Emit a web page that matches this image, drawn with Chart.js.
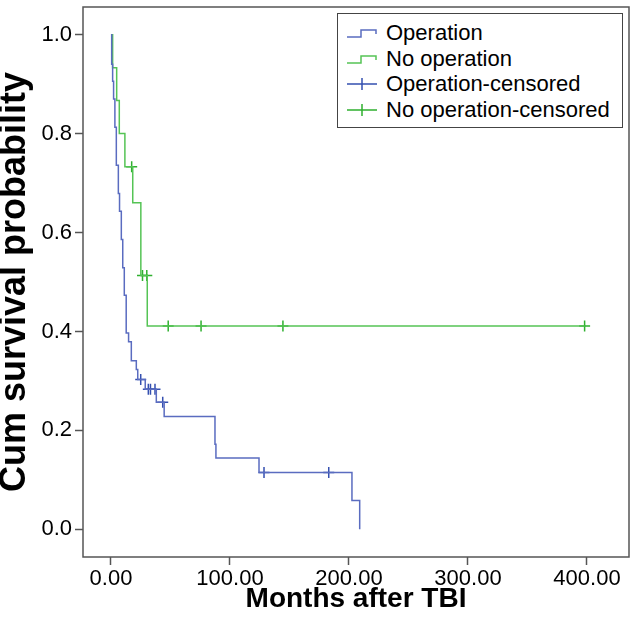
<!DOCTYPE html>
<html lang="en">
<head>
<meta charset="UTF-8">
<title>Survival after TBI</title>
<script src="https://cdn.jsdelivr.net/npm/chart.js"></script>
<style>
  body { margin: 0; background: #ffffff; font-family: "Liberation Sans", Arial, sans-serif; }
  #wrap { position: relative; width: 641px; height: 625px; }
  #legend {
    position: absolute; left: 337px; top: 13px; width: 286px; height: 115px;
    box-sizing: border-box; border: 1.5px solid #444; background: #fff; padding-top: 6px;
  }
  .row { height: 25.7px; display: flex; align-items: center; font-size: 22px; color: #000; white-space: nowrap; }
  .row svg { margin-left: 9px; margin-right: 9px; }
</style>
</head>
<body>
<div id="wrap">
  <canvas id="km" width="641" height="625"></canvas>
  <div id="legend"></div>
</div>
<script>
// Operation group: step times (months) and survival after each step
const opTimes = [0, 0.6, 1.4, 2.2, 3.3, 4.5, 6.2, 7.2, 8.7, 9.9, 11.2, 12.8, 14.8, 17.1, 21.3, 22.5, 28.8, 38.1, 44.7, 87.4, 88.2, 124.4, 202.5, 209.0];
const opSurv  = [1.0, 0.94, 0.906, 0.870, 0.813, 0.736, 0.679, 0.643, 0.586, 0.529, 0.473, 0.397, 0.379, 0.341, 0.323, 0.303, 0.283, 0.257, 0.228, 0.172, 0.144, 0.115, 0.058, 0.0];
const opCensT = [25.0, 31.4, 33.2, 37.0, 43.5, 128.6, 183.0];
const opCensS = [0.303, 0.283, 0.283, 0.283, 0.257, 0.115, 0.115];

// No operation group
const noTimes = [0, 1.4, 4.8, 7.0, 11.7, 18.3, 25.1, 30.5];
const noSurv  = [1.0, 0.933, 0.867, 0.800, 0.733, 0.660, 0.513, 0.411];
const noCensT = [17.4, 26.5, 30.1, 48.1, 75.7, 144.5, 398.0];
const noCensS = [0.733, 0.513, 0.513, 0.411, 0.411, 0.411, 0.411];

const xTicks = [0, 100, 200, 300, 400];
const yTicks = [0, 0.2, 0.4, 0.6, 0.8, 1.0];

const blue = '#5a6cc0', blueMark = '#3550b0';
const green = '#55c455', greenMark = '#2fb02f';
const family = "'Liberation Sans', Arial, sans-serif";
Chart.defaults.font.family = family;

// step line runs on to the last censored case
function curve(times, surv, censT) {
  const pts = times.map((t, i) => ({ x: t, y: surv[i] }));
  const lastC = Math.max(...censT);
  if (lastC > times[times.length - 1]) pts.push({ x: lastC, y: surv[surv.length - 1] });
  return pts;
}
function marks(t, s) { return t.map((v, i) => ({ x: v, y: s[i] })); }

// box round the plot area
const frame = {
  id: 'frame',
  afterDraw(chart) {
    const { ctx, chartArea: a } = chart;
    ctx.save();
    ctx.strokeStyle = '#555';
    ctx.lineWidth = 1.5;
    ctx.strokeRect(a.left, a.top, a.right - a.left, a.bottom - a.top);
    ctx.restore();
  }
};

const chart = new Chart(document.getElementById('km'), {
  type: 'line',
  data: {
    datasets: [
      { label: 'Operation', data: curve(opTimes, opSurv, opCensT), stepped: true,
        borderColor: blue, borderWidth: 1.5, pointRadius: 0, fill: false },
      { label: 'No operation', data: curve(noTimes, noSurv, noCensT), stepped: true,
        borderColor: green, borderWidth: 1.5, pointRadius: 0, fill: false },
      { type: 'scatter', label: 'Operation-censored', data: marks(opCensT, opCensS),
        pointStyle: 'cross', pointRadius: 5.5, borderColor: blueMark, borderWidth: 1.5, showLine: false },
      { type: 'scatter', label: 'No operation-censored', data: marks(noCensT, noCensS),
        pointStyle: 'cross', pointRadius: 5.5, borderColor: greenMark, borderWidth: 1.5, showLine: false }
    ]
  },
  options: {
    responsive: false,
    animation: false,
    layout: { padding: { left: 0, top: 2, right: 12, bottom: 0 } },
    plugins: { legend: { display: false }, tooltip: { enabled: false } },
    scales: {
      x: {
        type: 'linear', min: -23.5, max: 435.3,
        afterBuildTicks: s => { s.ticks = xTicks.map(v => ({ value: v })); },
        afterFit: s => { s.height = 68; s.paddingLeft = 0; s.paddingRight = 0; },
        ticks: { callback: v => v.toFixed(2), font: { size: 22 }, color: '#000', padding: 1, maxRotation: 0, autoSkip: false },
        grid: { drawOnChartArea: false, tickLength: 8, tickColor: '#555', tickWidth: 1.5 },
        border: { display: false },
        title: { display: true, text: 'Months after TBI', color: '#000',
                 font: { size: 28, weight: 'bold' }, padding: { top: 0, bottom: 9 } }
      },
      y: {
        type: 'linear', min: -0.056, max: 1.056,
        afterBuildTicks: s => { s.ticks = yTicks.map(v => ({ value: v })); },
        afterFit: s => { s.width = 83; s.paddingTop = 0; s.paddingBottom = 0; },
        ticks: { callback: v => v.toFixed(1), font: { size: 22 }, color: '#000', padding: 3, autoSkip: false },
        grid: { drawOnChartArea: false, tickLength: 8, tickColor: '#555', tickWidth: 1.5 },
        border: { display: false },
        title: { display: true, text: 'Cum survival probability', color: '#000',
                 font: { size: 36, weight: 'bold', lineHeight: 0.85 }, padding: 0 }
      }
    }
  },
  plugins: [frame]
});

// legend box in the top right corner
const legend = document.getElementById('legend');
chart.data.datasets.forEach(ds => {
  const isMark = ds.type === 'scatter';
  const icon = isMark
    ? `<svg width="30" height="12"><path d="M0 6 H30 M15 0 V12" stroke="${ds.borderColor}" stroke-width="1.5" fill="none"/></svg>`
    : `<svg width="30" height="12"><path d="M0 10 H14 V3 H29 V7" stroke="${ds.borderColor}" stroke-width="1.5" fill="none"/></svg>`;
  const row = document.createElement('div');
  row.className = 'row';
  row.innerHTML = icon + '<span>' + ds.label + '</span>';
  legend.appendChild(row);
});
</script>
</body>
</html>
